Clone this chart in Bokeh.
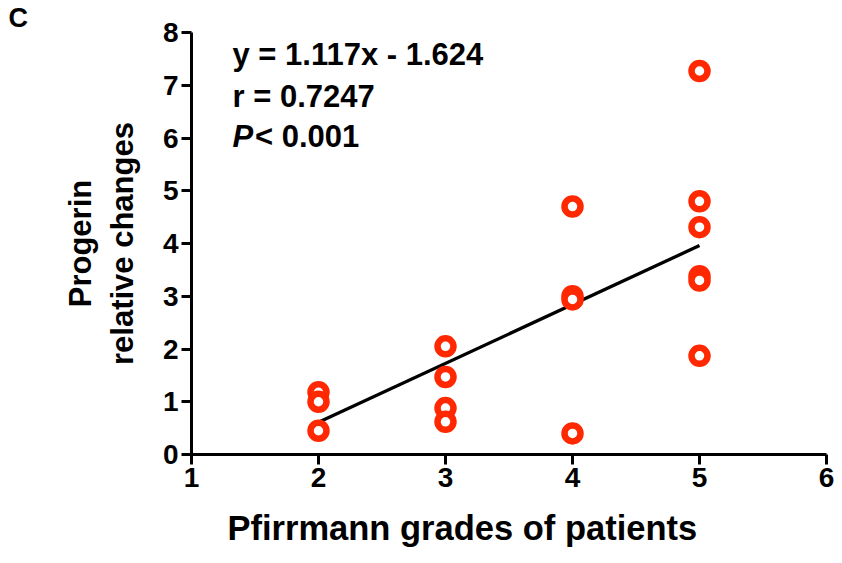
from bokeh.plotting import figure
from bokeh.models import Label, Range1d, FixedTicker, Title
from bokeh.embed import file_html
from bokeh.resources import INLINE

# data
grades = [2, 2, 2, 3, 3, 3, 3, 4, 4, 4, 4, 5, 5, 5, 5, 5, 5]
progerin = [1.18, 1.00, 0.45, 2.05, 1.47, 0.88, 0.62, 4.70, 3.00, 2.94, 0.40,
            7.27, 4.80, 4.31, 3.38, 3.30, 1.87]
slope = 1.117
intercept = -1.624
x_ticks = [1, 2, 3, 4, 5, 6]
y_ticks = [0, 1, 2, 3, 4, 5, 6, 7, 8]

FONT = "Liberation Sans"
RED = "#FF2800"

p = figure(width=842, height=563, output_backend="svg", toolbar_location=None,
           x_range=Range1d(1, 6), y_range=Range1d(0, 8),
           min_border_left=191, min_border_right=16, min_border_top=32,
           min_border_bottom=109)
p.outline_line_color = None
p.grid.visible = False
p.background_fill_color = "white"
p.border_fill_color = "white"

for ax in (p.xaxis[0], p.yaxis[0]):
    ax.axis_line_width = 3
    ax.major_tick_line_width = 3
    ax.major_tick_out = 10
    ax.major_tick_in = 0
    ax.minor_tick_line_color = None
    ax.major_label_text_font = FONT
    ax.major_label_text_font_style = "bold"
    ax.major_label_text_font_size = "28px"
    ax.major_label_text_color = "black"
    ax.major_label_standoff = 3
p.xaxis[0].ticker = FixedTicker(ticks=x_ticks)
p.yaxis[0].ticker = FixedTicker(ticks=y_ticks)

yax = p.yaxis[0]
yax.axis_label = "Progerin\nrelative changes"
yax.axis_label_text_font = FONT
yax.axis_label_text_font_style = "bold"
yax.axis_label_text_font_size = "31px"
yax.axis_label_text_color = "black"
yax.axis_label_standoff = 20

# panel letter "C"
p.title.text = "C"
p.title.text_font = FONT
p.title.text_font_style = "bold"
p.title.text_font_size = "27px"
p.title.text_color = "black"
p.title.align = "left"
p.title.offset = -183
p.title.standoff = 0

xt = Title(text="Pfirrmann grades of patients", text_font=FONT, text_font_style="bold",
           text_font_size="34.5px", align="left", offset=36, standoff=34,
           text_color="black")
p.add_layout(xt, "below")

# regression line over the observed grade range
lx = [min(grades), max(grades)]
ly = [slope * v + intercept for v in lx]
p.line(lx, ly, line_color="black", line_width=3.3)

p.scatter(grades, progerin, size=16, fill_color="white", line_color=RED,
          line_width=6.5)

def lab(x, y, text, size="31px", style="bold", align="left"):
    p.add_layout(Label(x=x, y=y, text=text, text_font=FONT, text_font_style=style,
                       text_font_size=size, text_align=align, text_baseline="middle",
                       text_color="black"))

lab(1.323, 7.58, f"y = {slope}x - {abs(intercept)}")
lab(1.323, 6.79, "r = 0.7247")
lab(1.323, 6.03, "P", style="bold italic")
lab(1.50, 6.03, "< 0.001")

open("out.html", "w").write(file_html(p, INLINE))
